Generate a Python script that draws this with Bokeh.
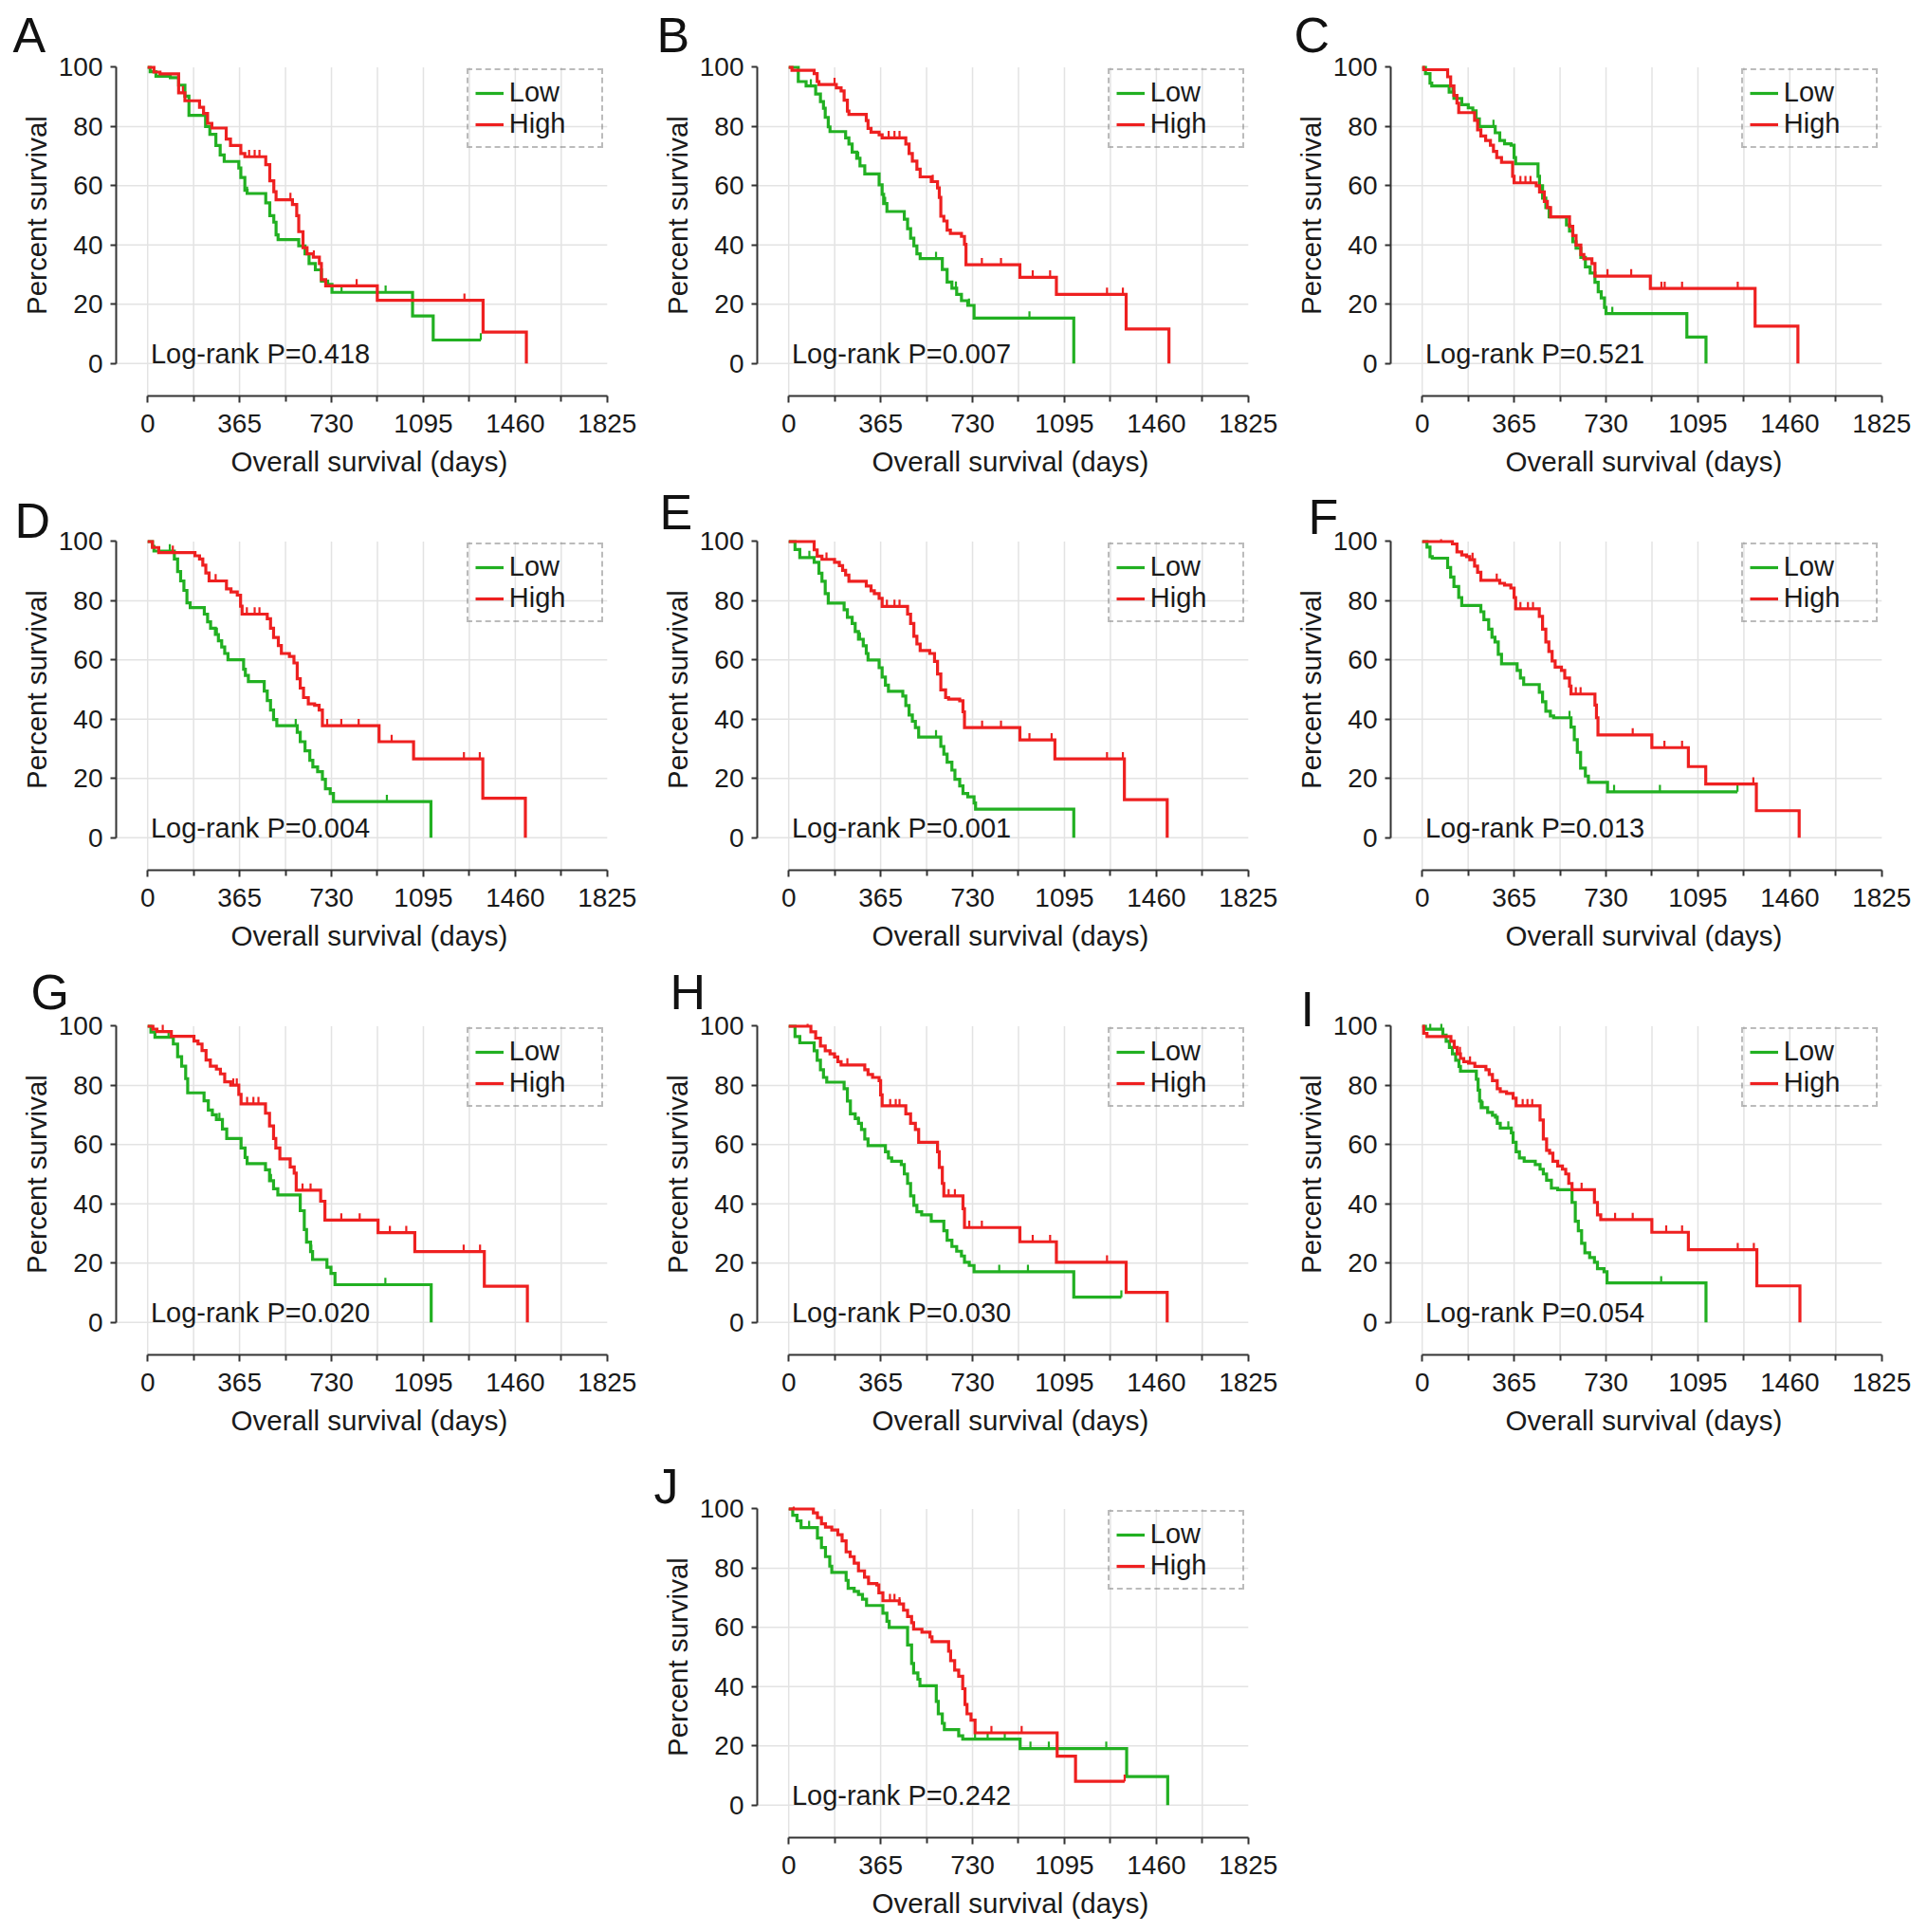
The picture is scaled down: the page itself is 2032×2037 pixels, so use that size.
import numpy as np
from bokeh.plotting import figure
from bokeh.models import FixedTicker, Legend, LegendItem, Label, Spacer, Title
from bokeh.layouts import column, row
from bokeh.embed import file_html
from bokeh.resources import INLINE

# ---------------- data (days, percent survival) ----------------
PANEL_LETTERS = ["A", "B", "C", "D", "E", "F", "G", "H", "I", "J"]
P_VALUES = ["0.418", "0.007", "0.521", "0.004", "0.001", "0.013", "0.020", "0.030", "0.054", "0.242"]
X_TICKS = [0, 365, 730, 1095, 1460, 1825]
X_MINOR = [182.5, 547.5, 912.5, 1277.5, 1642.5]
Y_TICKS = [0, 20, 40, 60, 80, 100]

A_low_t = [10, 33, 90, 123, 148, 164, 230, 247, 271, 288, 304, 362, 370, 386, 395, 469, 485, 501, 510, 518, 600, 625, 641, 666, 690, 715, 732, 1052, 1134]
A_low_s = [98.5, 97.0, 96.5, 94.0, 90.3, 83.8, 80.0, 77.4, 73.6, 70.4, 68.2, 66.0, 62.8, 58.5, 57.4, 54.2, 49.9, 47.7, 43.4, 41.8, 39.7, 37.0, 33.7, 31.6, 27.8, 26.7, 24.0, 16.0, 7.9]
A_low_c = [304, 395, 770, 945, 1323]
A_high_t = [25, 49, 123, 148, 206, 222, 238, 255, 312, 329, 370, 386, 469, 485, 501, 510, 575, 592, 600, 617, 633, 658, 682, 690, 707, 912, 1332, 1504]
A_high_s = [98.4, 97.8, 91.4, 88.7, 86.5, 84.4, 81.1, 79.5, 75.8, 73.6, 70.9, 69.8, 67.1, 61.7, 58.0, 55.3, 53.7, 49.9, 44.5, 39.1, 37.0, 35.9, 33.7, 28.3, 26.2, 21.3, 10.6, 0]
A_high_c = [140, 403, 425, 444, 567, 660, 830, 1258]

B_low_t = [38, 69, 107, 126, 138, 145, 157, 164, 226, 239, 252, 270, 283, 302, 359, 371, 377, 390, 459, 472, 484, 497, 509, 522, 610, 629, 648, 667, 686, 711, 736, 1132]
B_low_s = [95.2, 93.7, 91.0, 88.4, 86.2, 83.1, 79.9, 78.3, 76.2, 74.1, 71.4, 69.3, 66.7, 64.0, 60.3, 57.1, 54.0, 51.3, 48.7, 45.5, 42.3, 39.7, 37.0, 35.4, 31.7, 27.5, 25.4, 23.3, 21.2, 19.6, 15.3, 0]
B_low_c = [88, 276, 383, 585, 664, 716, 956]
B_high_t = [13, 101, 113, 120, 189, 208, 220, 233, 239, 308, 315, 327, 359, 371, 465, 478, 491, 509, 522, 566, 591, 598, 604, 616, 629, 642, 686, 698, 704, 918, 1063, 1340, 1510]
B_high_s = [99.0, 97.9, 95.2, 94.2, 93.1, 92.0, 88.9, 85.2, 84.1, 82.0, 79.4, 78.1, 77.2, 76.2, 74.1, 70.9, 68.3, 65.6, 63.0, 61.4, 59.3, 56.1, 49.7, 48.1, 45.0, 43.9, 42.9, 40.2, 33.3, 29.1, 23.3, 11.6, 0]
B_high_c = [182, 397, 420, 440, 572, 767, 843, 969, 1038, 1264, 1327]

C_low_t = [13, 31, 38, 107, 126, 157, 183, 201, 214, 227, 290, 308, 327, 353, 365, 371, 460, 466, 478, 491, 504, 573, 585, 598, 611, 630, 648, 667, 686, 699, 711, 724, 730, 1051, 1127]
C_low_s = [97.9, 94.7, 93.7, 91.6, 89.5, 87.4, 86.3, 85.3, 82.6, 80.0, 77.9, 75.3, 74.2, 73.7, 69.5, 67.4, 63.2, 60.0, 55.8, 52.6, 49.5, 46.8, 44.7, 41.1, 38.9, 35.8, 32.6, 30.5, 27.4, 24.2, 22.1, 18.9, 16.8, 8.9, 0]
C_low_c = [120, 283, 755]
C_high_t = [6, 101, 113, 126, 138, 145, 208, 220, 233, 252, 271, 283, 296, 315, 359, 365, 453, 466, 485, 497, 510, 585, 598, 611, 630, 642, 674, 686, 906, 1322, 1492]
C_high_s = [99.2, 96.8, 93.7, 90.5, 87.9, 84.7, 82.1, 78.9, 76.8, 75.3, 73.7, 71.6, 69.5, 67.9, 63.2, 61.0, 60.0, 57.9, 54.7, 52.6, 49.5, 46.3, 43.2, 40.0, 36.8, 35.3, 33.7, 29.5, 25.3, 12.6, 0]
C_high_c = [390, 410, 430, 736, 830, 950, 963, 1032, 1253]

D_low_t = [19, 25, 106, 119, 131, 144, 156, 169, 225, 238, 250, 269, 281, 294, 306, 319, 381, 388, 400, 463, 475, 488, 500, 513, 594, 606, 625, 644, 656, 675, 694, 706, 725, 738, 1125]
D_low_s = [98.4, 96.8, 94.1, 89.9, 86.7, 83.5, 79.3, 77.7, 75.5, 72.9, 70.7, 68.6, 66.5, 64.4, 62.2, 60.1, 56.9, 54.8, 52.7, 49.5, 46.3, 43.1, 39.9, 37.8, 35.6, 32.4, 29.3, 26.1, 23.9, 22.3, 19.7, 16.5, 14.9, 12.2, 0]
D_low_c = [88, 275, 588, 950]
D_high_t = [19, 44, 188, 206, 219, 231, 244, 313, 331, 356, 369, 375, 475, 488, 500, 519, 531, 563, 581, 594, 606, 619, 638, 663, 681, 694, 919, 1056, 1331, 1500]
D_high_s = [98.0, 96.3, 95.2, 94.1, 92.0, 89.4, 86.7, 84.0, 83.0, 81.9, 78.2, 75.5, 73.9, 70.7, 67.6, 64.9, 62.2, 61.2, 59.0, 53.7, 50.5, 47.3, 45.2, 44.7, 43.1, 37.8, 32.4, 26.6, 13.3, 0]
D_high_c = [100, 270, 394, 425, 444, 713, 769, 838, 969, 1256, 1319]

E_low_t = [25, 44, 101, 120, 132, 145, 157, 220, 233, 252, 264, 277, 296, 308, 315, 359, 371, 384, 396, 453, 465, 478, 491, 503, 516, 604, 616, 629, 648, 660, 679, 692, 711, 736, 742, 1132]
E_low_s = [97.3, 94.6, 93.0, 89.3, 86.6, 82.4, 79.2, 77.0, 74.4, 72.3, 69.6, 67.0, 64.8, 62.2, 60.0, 57.4, 54.2, 51.5, 49.4, 47.8, 44.6, 41.4, 39.3, 37.2, 34.0, 30.8, 28.2, 25.5, 22.8, 19.7, 17.5, 14.9, 13.8, 11.7, 9.6, 0]
E_low_c = [82, 283, 585]
E_high_t = [101, 113, 132, 182, 201, 214, 226, 239, 308, 327, 340, 359, 371, 472, 484, 497, 509, 522, 560, 579, 591, 604, 623, 635, 679, 692, 698, 918, 1057, 1333, 1503]
E_high_s = [97.2, 95.1, 94.0, 93.0, 91.9, 90.3, 88.7, 86.6, 85.0, 83.4, 82.4, 80.8, 78.1, 75.5, 72.3, 68.0, 65.4, 63.2, 62.2, 59.5, 55.3, 49.9, 47.3, 46.8, 46.2, 42.5, 37.2, 33.0, 26.6, 12.8, 0]
E_high_c = [150, 390, 420, 440, 768, 843, 956, 1044, 1264, 1327]

F_low_t = [19, 31, 40, 101, 113, 126, 145, 157, 233, 245, 264, 277, 289, 302, 315, 377, 390, 403, 465, 478, 491, 509, 522, 591, 604, 616, 629, 648, 660, 736]
F_low_s = [98.1, 94.9, 94.4, 91.2, 88.0, 84.8, 81.1, 78.4, 76.3, 73.6, 70.4, 67.7, 66.1, 61.9, 58.7, 56.5, 53.9, 51.7, 49.1, 45.9, 42.7, 41.1, 40.5, 37.3, 33.1, 28.8, 23.5, 20.8, 18.7, 15.5]
F_low_c = [277, 585, 762, 944, 1252]
F_high_t = [120, 138, 157, 176, 189, 208, 220, 233, 308, 327, 352, 365, 371, 465, 478, 491, 503, 516, 528, 553, 566, 585, 591, 686, 692, 698, 912, 1057, 1126, 1327, 1497]
F_high_s = [99.2, 96.5, 95.5, 94.9, 93.9, 91.7, 89.6, 86.9, 85.9, 85.3, 84.3, 81.1, 77.3, 74.7, 70.4, 66.1, 62.9, 59.7, 57.6, 56.5, 53.9, 51.2, 48.5, 44.8, 40.5, 34.7, 30.4, 24.0, 18.1, 9.1, 0]
F_high_c = [75, 200, 296, 390, 420, 440, 610, 629, 836, 962, 1032, 1315]

G_low_t = [13, 29, 102, 119, 135, 151, 159, 224, 241, 257, 273, 297, 314, 371, 387, 395, 468, 484, 500, 517, 606, 622, 631, 647, 655, 712, 728, 744, 1126]
G_low_s = [98.0, 96.3, 94.0, 89.7, 86.5, 82.3, 77.5, 74.8, 71.7, 70.1, 68.5, 65.3, 62.1, 58.9, 55.7, 53.6, 51.5, 47.8, 45.1, 43.0, 37.7, 31.3, 27.1, 23.9, 21.2, 18.6, 16.5, 12.7, 0]
G_low_c = [83, 285, 490, 650, 944]
G_high_t = [21, 37, 94, 184, 200, 216, 232, 249, 273, 289, 306, 330, 362, 371, 468, 484, 500, 509, 525, 566, 582, 590, 687, 704, 915, 1061, 1337, 1508]
G_high_s = [99.0, 98.2, 96.6, 95.0, 94.0, 91.8, 88.6, 86.5, 85.5, 83.9, 81.2, 80.1, 77.0, 73.8, 70.6, 66.3, 62.1, 58.9, 55.2, 52.5, 50.4, 44.6, 40.9, 34.5, 30.3, 23.9, 12.2, 0]
G_high_c = [60, 340, 354, 395, 420, 440, 615, 647, 769, 842, 962, 1027, 1255, 1320]

H_low_t = [25, 44, 101, 113, 126, 138, 151, 220, 233, 245, 264, 277, 289, 302, 315, 384, 396, 409, 447, 459, 472, 484, 497, 509, 528, 566, 616, 629, 648, 667, 686, 698, 717, 736, 1132]
H_low_s = [96.5, 94.4, 91.7, 88.5, 85.3, 82.7, 81.1, 78.9, 74.7, 70.4, 68.8, 67.2, 65.1, 61.9, 59.7, 57.6, 55.5, 54.4, 53.3, 50.1, 46.9, 42.7, 39.5, 37.3, 36.3, 34.1, 30.9, 27.7, 25.6, 24.0, 22.4, 20.3, 19.2, 17.1, 8.5]
H_low_c = [277, 836, 950, 1321]
H_high_t = [88, 107, 126, 145, 164, 182, 195, 208, 302, 315, 333, 359, 365, 371, 465, 484, 503, 516, 591, 598, 610, 616, 692, 698, 918, 1063, 1340, 1503]
H_high_s = [98.1, 96.0, 93.3, 91.7, 90.7, 89.6, 88.0, 86.9, 85.3, 83.7, 82.7, 81.6, 76.8, 73.1, 70.4, 67.2, 65.1, 60.8, 57.6, 52.3, 46.9, 42.7, 38.4, 32.0, 27.2, 20.3, 10.1, 0]
H_high_c = [75, 233, 403, 425, 440, 635, 660, 717, 767, 969, 1038, 1264]

I_low_t = [13, 82, 95, 108, 120, 133, 146, 152, 215, 222, 228, 234, 260, 279, 291, 298, 310, 354, 361, 373, 386, 405, 449, 468, 481, 494, 513, 538, 595, 608, 620, 633, 646, 665, 684, 696, 722, 734, 1127]
I_low_s = [99.0, 97.0, 94.9, 92.8, 90.7, 88.5, 86.4, 84.8, 82.1, 78.4, 74.7, 72.5, 70.9, 69.9, 69.3, 67.2, 65.6, 64.0, 60.8, 57.6, 55.5, 54.4, 53.3, 51.7, 50.1, 48.0, 45.3, 44.8, 40.5, 34.1, 30.9, 26.7, 23.5, 21.9, 20.3, 18.1, 17.1, 13.3, 0]
I_low_c = [32, 76, 240, 342, 949]
I_high_t = [6, 19, 114, 127, 139, 152, 165, 184, 209, 253, 266, 279, 298, 310, 335, 361, 373, 468, 481, 494, 506, 519, 538, 557, 570, 582, 595, 684, 696, 709, 912, 1057, 1329, 1500]
I_high_s = [97.6, 96.5, 94.9, 92.8, 90.7, 89.1, 88.0, 87.5, 86.4, 85.3, 83.7, 81.6, 78.9, 77.9, 77.3, 75.7, 73.1, 68.3, 61.9, 58.1, 57.1, 54.4, 52.8, 51.7, 50.1, 46.9, 44.8, 40.5, 36.3, 34.7, 30.4, 24.5, 12.3, 0]
I_high_c = [150, 190, 399, 418, 437, 633, 766, 836, 969, 1032, 1253, 1317]

J_low_t = [16, 33, 49, 114, 130, 146, 163, 171, 228, 236, 260, 277, 293, 309, 374, 390, 399, 472, 488, 496, 513, 521, 586, 594, 610, 618, 675, 691, 919, 1342, 1505]
J_low_s = [97.9, 96.0, 93.7, 90.2, 87.0, 83.9, 80.7, 78.6, 75.9, 73.2, 72.2, 71.1, 69.5, 67.4, 64.8, 62.1, 60.0, 54.1, 47.8, 44.6, 42.5, 40.3, 35.0, 30.8, 27.6, 25.5, 23.4, 22.3, 19.1, 9.6, 0]
J_low_c = [81, 740, 790, 858, 960, 1033, 1261]
J_high_t = [98, 114, 130, 146, 171, 195, 212, 228, 244, 260, 277, 301, 317, 350, 358, 374, 439, 456, 472, 488, 496, 529, 561, 569, 635, 643, 659, 675, 691, 700, 708, 724, 740, 1066, 1139]
J_high_s = [98.7, 97.1, 95.0, 93.9, 92.9, 91.3, 89.2, 85.5, 83.9, 81.7, 79.1, 77.0, 74.8, 74.3, 71.7, 69.0, 67.9, 65.8, 63.7, 61.6, 59.4, 58.4, 56.8, 55.2, 52.0, 48.8, 45.6, 43.5, 39.3, 34.0, 30.8, 28.7, 24.4, 16.5, 8.0]
J_high_c = [20, 402, 420, 440, 805, 925, 1334]

LOW = [(A_low_t, A_low_s, A_low_c), (B_low_t, B_low_s, B_low_c), (C_low_t, C_low_s, C_low_c),
       (D_low_t, D_low_s, D_low_c), (E_low_t, E_low_s, E_low_c), (F_low_t, F_low_s, F_low_c),
       (G_low_t, G_low_s, G_low_c), (H_low_t, H_low_s, H_low_c), (I_low_t, I_low_s, I_low_c),
       (J_low_t, J_low_s, J_low_c)]
HIGH = [(A_high_t, A_high_s, A_high_c), (B_high_t, B_high_s, B_high_c), (C_high_t, C_high_s, C_high_c),
        (D_high_t, D_high_s, D_high_c), (E_high_t, E_high_s, E_high_c), (F_high_t, F_high_s, F_high_c),
        (G_high_t, G_high_s, G_high_c), (H_high_t, H_high_s, H_high_c), (I_high_t, I_high_s, I_high_c),
        (J_high_t, J_high_s, J_high_c)]

# ---------------- layout / style ----------------
GREEN = "#22b022"
RED = "#ee2020"
TEXT = "#1a1a1a"
AXIS = "#333333"
GRID = "#e3e3e3"
FONT = "Liberation Sans"
X_MIN, X_MAX = -125, 1886
Y_MIN, Y_MAX = -11, 100.8
FRAME_W, FRAME_H = 534, 349
PX_X = FRAME_W / (X_MAX - X_MIN)
PX_Y = FRAME_H / (Y_MAX - Y_MIN)
COL_LEFT = [122, 106, 106]
COL_RIGHT = [36, 28, 24]
J_EXTRA_LEFT = 8
ROW_TOP = [68, 61, 72, 70]
ROW_BOTTOM = [90, 90, 90, 90]
LEG_W, LEG_H = 148, 80
YTITLE = "Percent survival"
YTITLE_SIZE = 29.5
# panel letters: offset of the left edge from the y-axis line, and height of the letter centre above the frame top (px)
LETTER_DX = [-109, -106, -102, -107, -103, -87, -90, -92, -95, -109]
LETTER_UP = [32, 42, 34, 20, 30, 24, 36, 40, 16, 22]


def step_xy(t, s, c):
    xs = [0.0] + [float(v) for v in t]
    ys = [100.0] + [float(v) for v in s]
    if ys[-1] > 0 and len(c) and max(c) > xs[-1]:
        xs.append(float(max(c)))
        ys.append(ys[-1])
    return xs, ys


def censor_levels(t, s, c):
    t = np.asarray(t, float)
    s = np.asarray(s, float)
    c = np.asarray(c, float)
    idx = np.searchsorted(t, c, side="right") - 1
    return np.where(idx >= 0, s[np.clip(idx, 0, None)], 100.0)


def make_panel(i, left, right, top, bottom):
    p = figure(frame_width=FRAME_W, frame_height=FRAME_H,
               x_range=(X_MIN, X_MAX), y_range=(Y_MIN, Y_MAX),
               output_backend="svg", toolbar_location=None,
               min_border_left=left, min_border_right=right,
               min_border_top=top, min_border_bottom=bottom,
               outline_line_color=None, background_fill_color="white",
               border_fill_color="white")
    p.xgrid.visible = False
    p.ygrid.visible = False

    # panel letter as the plot title
    standoff = min(2 * (LETTER_UP[i] - 29.6), top - 62)
    p.title.text = PANEL_LETTERS[i]
    p.title.align = "left"
    p.title.offset = LETTER_DX[i]
    p.title.standoff = standoff
    p.title.vertical_align = "bottom"
    p.title.text_font = FONT
    p.title.text_font_size = "52px"
    p.title.text_font_style = "normal"
    p.title.text_color = "#111111"

    # light grid, bounded to the data area
    gx = [v for v in sorted(X_TICKS + X_MINOR) if v < X_TICKS[-1]]
    p.segment(x0=gx, y0=Y_MIN, x1=gx, y1=Y_TICKS[-1], line_color=GRID, line_width=1.5)
    gy = [v for v in Y_TICKS if v < Y_TICKS[-1]]
    p.segment(x0=X_MIN, y0=gy, x1=X_TICKS[-1], y1=gy, line_color=GRID, line_width=1.5)

    tick_units = 7.2 / PX_Y
    renderers = []
    for (t, s, c), col in ((LOW[i], GREEN), (HIGH[i], RED)):
        xs, ys = step_xy(t, s, c)
        ln = p.step(x=xs, y=ys, mode="after", line_color=col, line_width=3.2, line_join="miter")
        lv = censor_levels(t, s, c)
        mk = p.scatter(x=c, y=lv + tick_units / 2, marker="dash", angle=np.pi / 2, size=7.2,
                       line_color=col, line_width=2.2)
        renderers.append((ln, mk))

    xa = p.xaxis[0]
    xa.ticker = FixedTicker(ticks=X_TICKS, minor_ticks=X_MINOR)
    xa.bounds = (X_TICKS[0], X_TICKS[-1])
    xa.axis_label = "Overall survival (days)"
    xa.major_tick_out = 7
    xa.major_tick_in = 0
    xa.minor_tick_out = 6
    xa.minor_tick_in = 0
    xa.major_label_standoff = 12
    xa.axis_label_standoff = 11

    ya = p.yaxis[0]
    ya.ticker = FixedTicker(ticks=Y_TICKS)
    ya.bounds = (Y_TICKS[0], Y_TICKS[-1])
    ya.axis_label = None
    ya.major_tick_out = 6
    ya.major_tick_in = 0
    ya.major_label_standoff = 8

    for ax in (xa, ya):
        ax.axis_line_color = AXIS
        ax.axis_line_width = 2
        ax.major_tick_line_color = AXIS
        ax.major_tick_line_width = 2
        ax.minor_tick_line_width = 2
        ax.major_label_text_font = FONT
        ax.major_label_text_font_size = "28px"
        ax.major_label_text_color = TEXT
        ax.axis_label_text_font = FONT
        ax.axis_label_text_font_size = "%.1fpx" % YTITLE_SIZE
        ax.axis_label_text_font_style = "normal"
        ax.axis_label_text_color = TEXT
    xa.minor_tick_line_color = AXIS
    ya.minor_tick_line_color = None

    # y title as a side title, centred on the 0-100 span of the axis
    ytitle_len = 7.113 * YTITLE_SIZE
    ytitle = Title(text=YTITLE, align="left", vertical_align="bottom", standoff=7,
                   offset=(50 - Y_MIN) * PX_Y - ytitle_len / 2, text_font=FONT,
                   text_font_size="%.1fpx" % YTITLE_SIZE, text_font_style="normal",
                   text_color=TEXT)
    p.add_layout(ytitle, "left")

    leg_x = (X_TICKS[-1] - X_MIN) * PX_X - LEG_W
    leg_y = (Y_TICKS[-1] - Y_MIN) * PX_Y - 6 - LEG_H
    legend = Legend(items=[LegendItem(label="Low", renderers=list(renderers[0])),
                           LegendItem(label="High", renderers=list(renderers[1]))],
                    location=(leg_x, leg_y), orientation="vertical", margin=0, padding=7,
                    spacing=-7, glyph_width=30, glyph_height=20, label_standoff=6,
                    label_width=90, label_text_font=FONT, label_text_font_size="29px",
                    label_text_color=TEXT, border_line_color="#7a7a7a",
                    border_line_dash="2 2", border_line_width=2,
                    background_fill_alpha=0)
    p.add_layout(legend)

    p.add_layout(Label(x=12, y=10.5 / PX_Y, text="Log-rank P=" + P_VALUES[i], text_font=FONT,
                       text_font_size="29px", text_color=TEXT, text_baseline="middle"))
    return p


panels = []
for i in range(10):
    r = i // 3
    ccol = 1 if i == 9 else i % 3
    left = COL_LEFT[ccol] + (J_EXTRA_LEFT if i == 9 else 0)
    panels.append(make_panel(i, left, COL_RIGHT[ccol], ROW_TOP[r], ROW_BOTTOM[r]))

layout = column(
    row(panels[0], panels[1], panels[2]),
    row(panels[3], panels[4], panels[5]),
    row(panels[6], panels[7], panels[8]),
    row(Spacer(width=COL_LEFT[0] + FRAME_W + COL_RIGHT[0] - J_EXTRA_LEFT, height=10), panels[9]),
)

open("out.html", "w").write(file_html(layout, INLINE))
